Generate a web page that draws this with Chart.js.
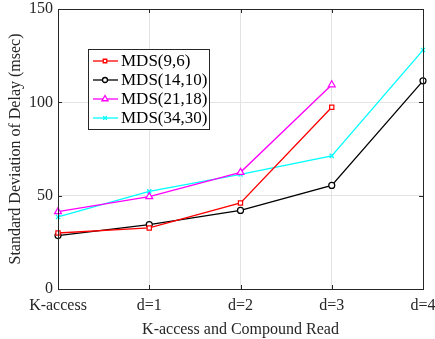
<!DOCTYPE html>
<html>
<head>
<meta charset="utf-8">
<script src="https://cdn.jsdelivr.net/npm/chart.js@4/dist/chart.umd.min.js"></script>
<style>
  html, body { margin: 0; padding: 0; background: #fff; }
  #wrap { width: 435px; height: 339px; }
</style>
</head>
<body>
<div id="wrap"><canvas id="myChart" width="435" height="339"></canvas></div>
<script>
var categories = ['K-access', 'd=1', 'd=2', 'd=3', 'd=4'];
var yTicks = [0, 50, 100, 150];
var mds96 = [30.0, 32.7, 46.1, 97.4, null];
var mds1410 = [28.6, 34.5, 42.1, 55.5, 111.5];
var mds2118 = [41.4, 49.5, 62.5, 109.4, null];
var mds3430 = [38.6, 52.3, 61.4, 71.3, 128.0];

var seriesNames = ['MDS(9,6)', 'MDS(14,10)', 'MDS(21,18)', 'MDS(34,30)'];
var seriesColors = ['#ff0000', '#000000', '#ff00ff', '#00ffff'];
var seriesPoints = ['rect', 'circle', 'triangle', 'crossRot'];
var seriesRadius = [3, 3, 4, 3];
var seriesData = [mds96, mds1410, mds2118, mds3430];

var serif = "'Liberation Serif', 'Times New Roman', serif";
var axisInk = '#262626';

// box round the plot with inward ticks, plus the legend inside the plot
var frame = {
    id: 'frame',
    afterDraw: function (chart) {
        var c = chart.ctx, a = chart.chartArea;
        var xs = chart.scales.x, ys = chart.scales.y;
        c.save();
        c.strokeStyle = axisInk;
        c.lineWidth = 1;
        c.strokeRect(Math.round(a.left) + 0.5, Math.round(a.top) + 0.5,
            Math.round(a.right - a.left), Math.round(a.bottom - a.top));
        c.beginPath();
        yTicks.forEach(function (v) {
            var y = Math.round(ys.getPixelForValue(v)) + 0.5;
            c.moveTo(a.left, y); c.lineTo(a.left + 4, y);
            c.moveTo(a.right, y); c.lineTo(a.right - 4, y);
        });
        categories.forEach(function (n, i) {
            var x = Math.round(xs.getPixelForValue(i)) + 0.5;
            c.moveTo(x, a.bottom); c.lineTo(x, a.bottom - 4);
            c.moveTo(x, a.top); c.lineTo(x, a.top + 4);
        });
        c.stroke();

        // legend
        var lx = 88, ly = 49, lw = 121, lh = 80;
        c.fillStyle = '#fff';
        c.fillRect(lx, ly, lw, lh);
        c.strokeStyle = axisInk;
        c.strokeRect(lx + 0.5, ly + 0.5, lw, lh);
        c.font = '17px ' + serif;
        c.textBaseline = 'middle';
        seriesNames.forEach(function (name, i) {
            var y = ly + 12 + i * 19;
            c.strokeStyle = seriesColors[i];
            c.lineWidth = 1.3;
            c.beginPath();
            c.moveTo(lx + 5, y); c.lineTo(lx + 30, y);
            c.stroke();
            c.fillStyle = '#fff';
            Chart.helpers.drawPoint(c, {
                pointStyle: seriesPoints[i], radius: seriesRadius[i] - 0.5,
                rotation: 0, borderWidth: 1
            }, lx + 17, y);
            c.fillStyle = '#000';
            c.fillText(name, lx + 33, y + 1);
        });
        c.restore();
    }
};

var ctx = document.getElementById('myChart').getContext('2d');
var chart = new Chart(ctx, {
    type: 'line',
    data: {
        labels: categories,
        datasets: seriesNames.map(function (name, i) {
            return {
                label: name,
                data: seriesData[i],
                borderColor: seriesColors[i],
                backgroundColor: '#ffffff',
                pointBorderColor: seriesColors[i],
                pointBackgroundColor: '#ffffff',
                pointStyle: seriesPoints[i],
                pointRadius: seriesRadius[i],
                pointBorderWidth: 1.2,
                borderWidth: 1.3,
                fill: false,
                tension: 0,
                spanGaps: false
            };
        })
    },
    options: {
        responsive: false,
        animation: false,
        layout: { padding: { top: 9, right: 12, left: 0, bottom: 0 } },
        plugins: {
            legend: { display: false },
            tooltip: { enabled: false }
        },
        scales: {
            x: {
                type: 'category',
                offset: false,
                grid: { color: '#e3e3e3', drawTicks: false },
                border: { display: false },
                ticks: { color: axisInk, font: { family: serif, size: 16 }, padding: 7, maxRotation: 0, autoSkip: false },
                title: { display: true, text: 'K-access and Compound Read', color: axisInk, font: { family: serif, size: 16 }, padding: { top: 0, bottom: 0 } },
                afterFit: function (s) { s.height = 50; s.paddingLeft = 0; s.paddingRight = 0; }
            },
            y: {
                min: 0,
                max: 150,
                grid: { color: '#e3e3e3', drawTicks: false },
                border: { display: false },
                ticks: { stepSize: 50, color: axisInk, font: { family: serif, size: 16 }, padding: 5 },
                title: { display: true, text: 'Standard Deviation of Delay (msec)', color: axisInk, font: { family: serif, size: 16 }, padding: { top: 6, bottom: 2 } },
                afterFit: function (s) { s.width = 58; s.paddingTop = 0; s.paddingBottom = 0; }
            }
        }
    },
    plugins: [frame]
});
</script>
</body>
</html>
